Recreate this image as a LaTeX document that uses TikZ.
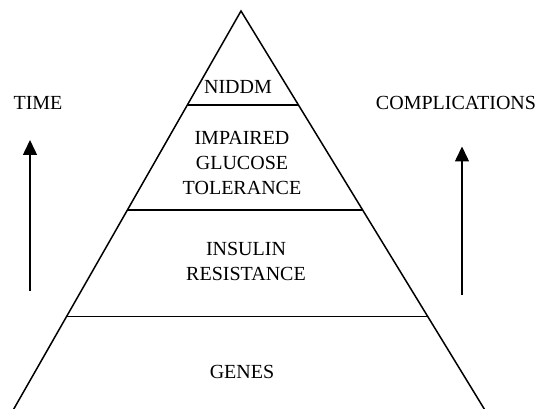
\documentclass[tikz,border=0pt]{standalone}
\usepackage{fontspec}
\setmainfont{Liberation Serif}
\usetikzlibrary{arrows.meta,calc}
\begin{document}
\begin{tikzpicture}[x=1pt,y=-1pt,
    caption/.style={font=\fontsize{20}{25}\selectfont, align=center, inner sep=0pt},
    edge/.style={line width=1.5pt},
    tier/.style={line width=1.8pt},
    rise/.style={line width=1.5pt, -{Triangle[length=15pt,width=14pt]}}]
  \useasboundingbox (0,0) rectangle (539,409);
  \begin{scope}
    \clip (0,0) rectangle (539,409);
    % pyramid outline, running past the lower edge
    \coordinate (apex) at (241,11);
    \coordinate (bl) at (7.5,420);
    \coordinate (br) at (491,420);
    \draw[edge] (bl) -- (apex) -- (br);
    % tier boundaries
    \coordinate (l1) at ($(apex)!0.229!(bl)$);
    \coordinate (r1) at ($(apex)!0.229!(br)$);
    \coordinate (l2) at ($(apex)!0.486!(bl)$);
    \coordinate (r2) at ($(apex)!0.486!(br)$);
    \coordinate (l3) at ($(apex)!0.747!(bl)$);
    \coordinate (r3) at ($(apex)!0.747!(br)$);
    \draw[tier] (l1) -- (r1);
    \draw[tier] (l2) -- (r2);
    \draw[tier] (l3) -- (r3);
  \end{scope}
  % tier labels
  \node[caption] (niddm) at (238,87) {NIDDM};
  \node[caption] (igt) at (242,163.3) {IMPAIRED\\GLUCOSE\\TOLERANCE};
  \node[caption] (ir) at (246,261) {INSULIN\\RESISTANCE};
  \node[caption] (genes) at (242,372) {GENES};
  % side arrows
  \node[caption] (time) at (38,103) {TIME};
  \node[caption] (comp) at (456,103) {COMPLICATIONS};
  \coordinate (tb) at (30,291);
  \coordinate (tt) at (30,140);
  \coordinate (cb) at (462,295);
  \coordinate (ct) at (462,146.5);
  \draw[rise] (tb) -- (tt);
  \draw[rise] (cb) -- (ct);
\end{tikzpicture}
\end{document}
